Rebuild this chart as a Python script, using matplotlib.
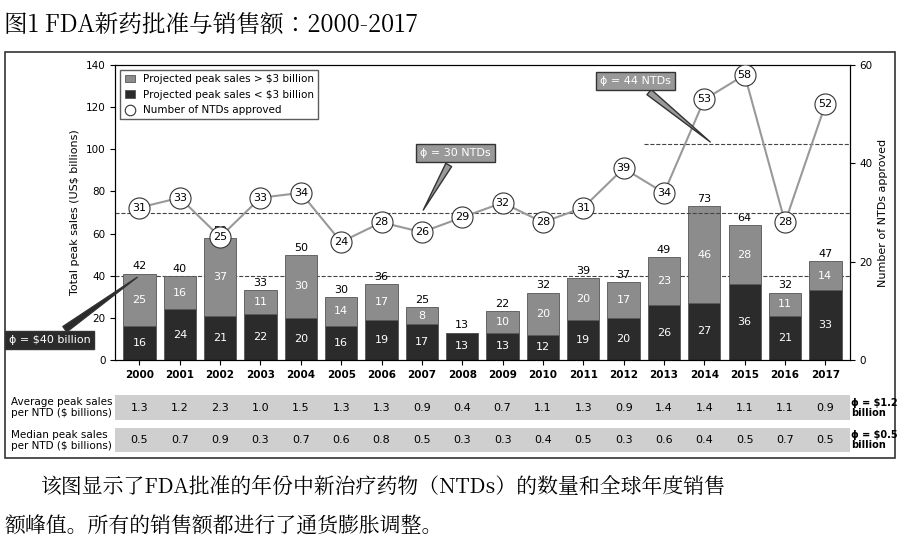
import matplotlib
matplotlib.use("Agg")
import matplotlib.pyplot as plt
from matplotlib.patches import Rectangle
from matplotlib import font_manager as fm
import numpy as np

cjk_path = None
for f in fm.findSystemFonts():
    if 'CJK' in f and ('Regular' in f or 'CJK' in f):
        cjk_path = f
        if 'Regular' in f:
            break
cjk = fm.FontProperties(fname=cjk_path) if cjk_path else fm.FontProperties(family='Noto Sans CJK SC')

years = [str(y) for y in range(2000, 2018)]
low = [16,24,21,22,20,16,19,17,13,13,12,19,20,26,27,36,21,33]
high = [25,16,37,11,30,14,17,8,0,10,20,20,17,23,46,28,11,14]
totals = [42,40,59,33,50,30,36,25,13,22,32,39,37,49,73,64,32,47]
ntds = [31,33,25,33,34,24,28,26,29,32,28,31,39,34,53,58,28,52]
avg = [1.3,1.2,2.3,1.0,1.5,1.3,1.3,0.9,0.4,0.7,1.1,1.3,0.9,1.4,1.4,1.1,1.1,0.9]
med = [0.5,0.7,0.9,0.3,0.7,0.6,0.8,0.5,0.3,0.3,0.4,0.5,0.3,0.6,0.4,0.5,0.7,0.5]

DARK = '#2b2b2b'; MID = '#8c8c8c'
fig = plt.figure(figsize=(9, 5.47), dpi=100)
t = fig.text(0.005, 0.955, "图1 FDA新药批准与销售额：2000-2017", va='center', fontproperties=cjk)
t.set_fontsize(17)
fig.patches.append(Rectangle((0.006, 0.163), 0.988, 0.742, transform=fig.transFigure,
                             fill=False, ec='#333', lw=1.2))

ax = fig.add_axes([0.128, 0.342, 0.816, 0.539])
x = np.arange(len(years))
ax.bar(x, low, 0.8, color=DARK, ec='#555', lw=0.6, label='Projected peak sales < $3 billion', zorder=2)
ax.bar(x, high, 0.8, bottom=low, color=MID, ec='#555', lw=0.6, label='Projected peak sales > $3 billion', zorder=2)
for i in x:
    ax.text(i, low[i]/2, str(low[i]), color='white', ha='center', va='center', fontsize=8, zorder=3)
    if high[i]:
        ax.text(i, low[i]+high[i]/2, str(high[i]), color='white', ha='center', va='center', fontsize=8, zorder=3)
    ax.text(i, low[i]+high[i]+1, str(totals[i]), ha='center', va='bottom', fontsize=8, zorder=3)
ax.set_ylim(0, 140); ax.set_xlim(-0.6, 17.6)
ax.set_yticks(range(0, 141, 20))
ax.set_xticks(x); ax.set_xticklabels(years, fontsize=7.5, fontweight='bold')
ax.tick_params(axis='y', labelsize=7.5)
ax.set_ylabel('Total peak sales (US$ billions)', fontsize=8)
ax.axhline(40, color='#444', ls='--', lw=0.8, zorder=1)

ax2 = ax.twinx()
ax2.set_ylim(0, 60)
ax2.set_yticks(range(0, 61, 20))
ax2.tick_params(axis='y', labelsize=7.5)
ax2.set_ylabel('Number of NTDs approved', fontsize=8)
ax2.axhline(30, color='#444', ls='--', lw=0.8, zorder=1)
ax2.plot([12.5, 17.6], [44, 44], color='#444', ls='--', lw=0.8, zorder=1)
ax2.plot(x, ntds, color='#999', lw=1.5, zorder=4)
ax2.scatter(x, ntds, s=230, facecolor='white', edgecolor='#333', lw=0.8, zorder=5,
            label='Number of NTDs approved')
for i in x:
    ax2.text(i, ntds[i], str(ntds[i]), ha='center', va='center', fontsize=8, zorder=6)

h1, l1 = ax.get_legend_handles_labels()
h2, l2 = ax2.get_legend_handles_labels()
leg = ax2.legend([h1[1], h1[0], h2[0]], [l1[1], l1[0], l2[0]], loc='upper left',
                 fontsize=7.5, frameon=True, edgecolor='#333', fancybox=False,
                 bbox_to_anchor=(0.0, 1.0), markerscale=0.5, handlelength=1, borderpad=0.4)
leg.set_zorder(10)

def callout(txt, xy, pos, fc, tc):
    ax2.annotate(txt, xy=xy, xytext=pos, textcoords='figure fraction', fontsize=8, color=tc,
                 ha='center', va='center', zorder=9,
                 bbox=dict(boxstyle='square,pad=0.35', fc=fc, ec='#333'),
                 arrowprops=dict(arrowstyle='wedge,tail_width=0.6', fc=fc, ec='#333'))
callout('ϕ = 30 NTDs', (7.0, 30), (0.506, 0.72), '#999', 'white')
callout('ϕ = 44 NTDs', (14.2, 44), (0.706, 0.852), '#999', 'white')
callout('ϕ = $40 billion', (0.0, 17.14), (0.055, 0.378), DARK, 'white')

x0, x1 = 0.128, 0.944
def row(vals, yc, label, rlabel):
    fig.patches.append(Rectangle((x0, yc-0.022), x1-x0, 0.044, transform=fig.transFigure,
                                 fc='#cfcfcf', ec='none'))
    for i, v in enumerate(vals):
        fx = x0 + (x1-x0)*(i+0.6)/18.2
        fig.text(fx, yc, f"{v:.1f}", ha='center', va='center', fontsize=8)
    fig.text(0.012, yc, label, ha='left', va='center', fontsize=7.5, linespacing=1.1)
    fig.text(0.946, yc, rlabel, ha='left', va='center', fontsize=7, fontweight='bold', linespacing=1.0)
row(avg, 0.255, 'Average peak sales\nper NTD ($ billions)', 'ϕ = $1.2\nbillion')
row(med, 0.195, 'Median peak sales\nper NTD ($ billions)', 'ϕ = $0.5\nbillion')

for txt, xx, yy in [("该图显示了FDA批准的年份中新治疗药物（NTDs）的数量和全球年度销售", 0.045, 0.11),
                    ("额峰值。所有的销售额都进行了通货膨胀调整。", 0.005, 0.037)]:
    c = fig.text(xx, yy, txt, va='center', fontproperties=cjk)
    c.set_fontsize(15)

fig.savefig('out.png', dpi=100)
